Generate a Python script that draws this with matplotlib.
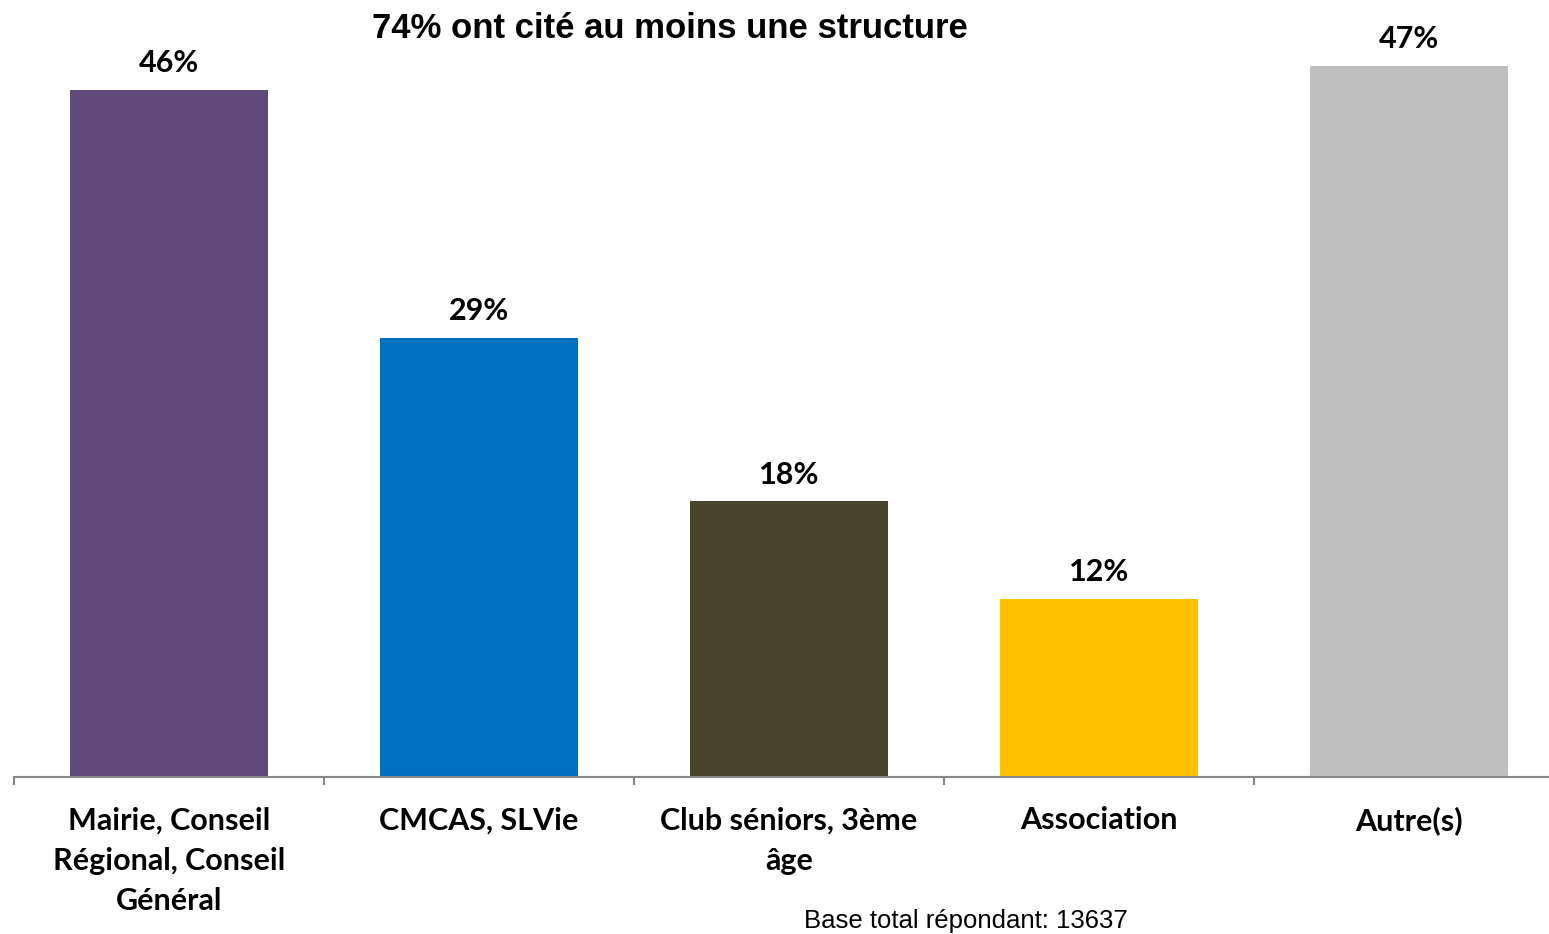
import matplotlib
matplotlib.use("Agg")
import matplotlib.pyplot as plt
import numpy as np

# Données
categories = ["Mairie, Conseil\nRégional, Conseil\nGénéral", "CMCAS, SLVie",
              "Club séniors, 3ème\nâge", "Association", "Autre(s)"]
values = [45.8, 29.3, 18.4, 11.9, 47.4]
value_labels = ["46%", "29%", "18%", "12%", "47%"]
colors = ["#604A7B", "#0070C0", "#4A452A", "#FFC000", "#BFBFBF"]

W, H = 1549, 934
fig = plt.figure(figsize=(W / 100, H / 100), dpi=100)
ax = fig.add_axes([14 / W, (H - 777) / H, 1550 / W, 750 / H])

x = np.arange(len(categories))
ax.bar(x, values, width=0.64, color=colors)
ax.set_xlim(-0.5, 4.5)
ax.set_ylim(0, 50)

for xi, v, lab in zip(x, values, value_labels):
    ax.annotate(lab, (xi, v), xytext=(0, 9), textcoords="offset points",
                ha="center", va="bottom", fontsize=22, fontweight="bold",
                family="Lato")

# Axe
for s in ["top", "right", "left"]:
    ax.spines[s].set_visible(False)
ax.spines["bottom"].set_color("#868686")
ax.spines["bottom"].set_linewidth(1.5)
ax.set_yticks([])
ax.set_xticks(x)
ax.set_xticklabels(categories, fontsize=22, fontweight="bold", family="Lato",
                   linespacing=1.55, va="top")
ax.tick_params(axis="x", which="major", length=0, pad=21)
ax.set_xticks(np.arange(-0.5, 5, 1), minor=True)
ax.tick_params(axis="x", which="minor", length=6, width=1.5, color="#868686",
               direction="out")

fig.text(670 / W, 1 - 28 / H, "74% ont cité au moins une structure",
         ha="center", va="center", fontsize=25, fontweight="bold",
         family="Liberation Sans")
fig.text(966 / W, 1 - 921 / H, "Base total répondant: 13637",
         ha="center", va="center", fontsize=18.5, family="Liberation Sans")

fig.savefig("out.png", dpi=100)
